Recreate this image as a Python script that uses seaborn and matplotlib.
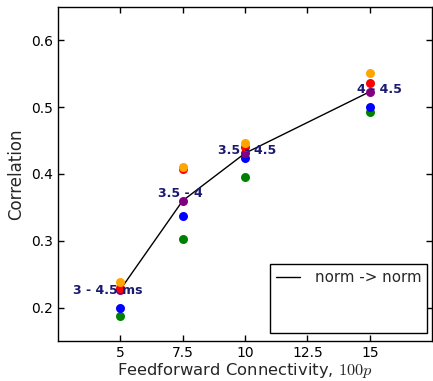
import matplotlib
matplotlib.use("Agg")
import matplotlib.pyplot as plt
import seaborn as sns
import pandas as pd
from matplotlib.lines import Line2D

sns.set_theme(style="ticks")
plt.rcParams['font.family'] = ['DejaVu Sans']
plt.rcParams['mathtext.fontset'] = 'cm'

x = [5, 7.5, 10, 15]
green = [0.187, 0.303, 0.395, 0.492]
blue = [0.200, 0.337, 0.424, 0.500]
red = [0.229, 0.407, 0.440, 0.536]
orange = [0.238, 0.410, 0.446, 0.551]
purple = [0.227, 0.360, 0.431, 0.523]
labels = ["3 - 4.5 ms", "3.5 - 4", "3.5 - 4.5", "4 - 4.5"]
label_x = [4.5, 7.4, 10.1, 15.4]
label_y = [0.225, 0.371, 0.435, 0.526]

fig = plt.figure(figsize=(4.33, 3.81), dpi=100)
ax = fig.add_axes([0.134, 0.105, 0.864, 0.877])

sns.lineplot(x=x, y=purple, ax=ax, color='black', linewidth=1, zorder=2)
for vals, col in [(green, 'green'), (blue, 'blue'), (purple, 'purple'), (red, 'red'), (orange, 'orange')]:
    sns.scatterplot(x=x, y=vals, ax=ax, color=col, s=42, linewidth=0, zorder=3)

for lx, ly, t in zip(label_x, label_y, labels):
    ax.text(lx, ly, t, color='#191970', fontweight='bold', fontsize=9,
            ha='center', va='center', zorder=5)

ax.set_xlim(2.5, 17.5)
ax.set_ylim(0.15, 0.65)
ax.set_xticks([5, 7.5, 10, 12.5, 15])
ax.set_xticklabels(["5", "7.5", "10", "12.5", "15"])
ax.set_yticks([0.2, 0.3, 0.4, 0.5, 0.6])
ax.tick_params(direction='in', top=True, right=True, length=4, width=1,
               labelsize=10, colors='black')
for s in ax.spines.values():
    s.set_visible(True)
    s.set_color('black')
    s.set_linewidth(1)
ax.set_xlabel("Feedforward Connectivity, $100p$", fontsize=11.8, labelpad=0.8)
ax.set_ylabel("Correlation", fontsize=12)

handles = [Line2D([], [], color='black', linewidth=1),
           Line2D([], [], color='none'),
           Line2D([], [], color='none')]
leg = ax.legend(handles, ["norm -> norm", " ", " "], loc='lower right',
                bbox_to_anchor=(0.987, 0.024), borderaxespad=0,
                fontsize=10.8, frameon=True, fancybox=False,
                handlelength=1.6, handletextpad=1.0, borderpad=0.4,
                labelspacing=0.4)
leg.get_frame().set_edgecolor('black')
leg.get_frame().set_linewidth(1)
leg.get_frame().set_alpha(1)

fig.savefig("out.png", dpi=100)
